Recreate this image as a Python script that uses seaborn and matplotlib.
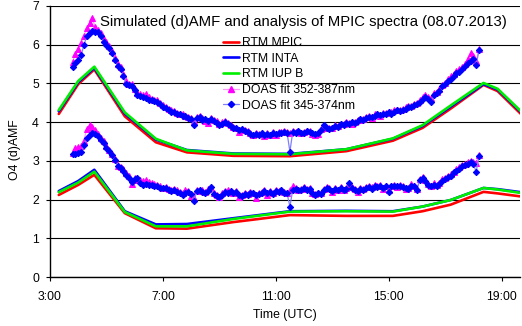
import numpy as np
import pandas as pd
import matplotlib
matplotlib.use("Agg")
import matplotlib.pyplot as plt
import seaborn as sns
from matplotlib.lines import Line2D

# ---------------- data ----------------
rtm_time = [3.31, 4.0, 4.57, 5.65, 6.75, 7.85, 9.5, 11.5, 13.5, 15.15, 16.2, 17.2, 18.36, 18.86, 19.7]
# upper group (dAMF, higher)
mpic_up = [4.21, 4.98, 5.36, 4.15, 3.48, 3.22, 3.13, 3.12, 3.25, 3.52, 3.85, 4.35, 4.96, 4.80, 4.20]
inta_up = [4.28, 5.03, 5.40, 4.22, 3.55, 3.28, 3.19, 3.18, 3.30, 3.57, 3.90, 4.40, 4.98, 4.84, 4.25]
iupb_up = [4.31, 5.06, 5.43, 4.25, 3.57, 3.27, 3.18, 3.17, 3.30, 3.58, 3.92, 4.43, 5.01, 4.86, 4.27]
# lower group
mpic_lo = [2.12, 2.38, 2.64, 1.65, 1.26, 1.25, 1.42, 1.60, 1.58, 1.58, 1.70, 1.87, 2.20, 2.16, 2.08]
inta_lo = [2.22, 2.48, 2.77, 1.70, 1.36, 1.37, 1.52, 1.70, 1.71, 1.70, 1.82, 1.99, 2.30, 2.27, 2.19]
iupb_lo = [2.19, 2.44, 2.72, 1.68, 1.31, 1.31, 1.50, 1.69, 1.70, 1.69, 1.82, 1.99, 2.30, 2.26, 2.17]

doas_time = [
    3.8, 3.9, 4.0, 4.1, 4.2, 4.3, 4.4, 4.5, 4.6, 4.7, 4.8, 4.9, 5.0, 5.1, 5.2, 5.3, 5.4, 5.5, 5.6, 5.7,
    5.8, 5.9, 6.0, 6.1, 6.2, 6.3, 6.4, 6.5, 6.6, 6.7, 6.8, 6.9, 7.0, 7.1, 7.2, 7.3, 7.4, 7.5, 7.6, 7.7,
    7.8, 7.9, 8.0, 8.1, 8.2, 8.3, 8.4, 8.5, 8.6, 8.7, 8.8, 8.9, 9.0, 9.1, 9.2, 9.3, 9.4, 9.5, 9.6, 9.7,
    9.8, 9.9, 10.0, 10.1, 10.2, 10.3, 10.4, 10.5, 10.6, 10.7, 10.8, 10.9, 11.0, 11.1, 11.2, 11.3, 11.4, 11.5, 11.6, 11.7,
    11.8, 11.9, 12.0, 12.1, 12.2, 12.3, 12.4, 12.5, 12.6, 12.7, 12.8, 12.9, 13.0, 13.1, 13.2, 13.3, 13.4, 13.5, 13.6, 13.7,
    13.8, 13.9, 14.0, 14.1, 14.2, 14.3, 14.4, 14.5, 14.6, 14.7, 14.8, 14.9, 15.0, 15.1, 15.2, 15.3, 15.4, 15.5, 15.6, 15.7,
    15.8, 15.9, 16.0, 16.1, 16.2, 16.3, 16.4, 16.5, 16.6, 16.7, 16.8, 16.9, 17.0, 17.1, 17.2, 17.3, 17.4, 17.5, 17.6, 17.7,
    17.8, 17.9, 18.0, 18.1, 18.2]

# DOAS fit 345-374nm (blue diamonds), upper
d345_up = [
    5.43, 5.52, 5.61, 5.72, 5.98, 6.22, 6.31, 6.36, 6.33, 6.32, 6.22, 6.08, 6.00, 5.90, 5.78, 5.60, 5.44, 5.38, 5.18, 4.98,
    4.95, 4.93, 4.82, 4.70, 4.68, 4.65, 4.62, 4.58, 4.57, 4.54, 4.52, 4.46, 4.40, 4.36, 4.30, 4.27, 4.25, 4.22, 4.20, 4.16,
    4.15, 4.11, 4.08, 3.93, 4.10, 4.12, 4.06, 4.08, 4.04, 4.07, 4.03, 3.98, 3.92, 3.96, 4.00, 3.95, 3.90, 3.86, 3.84, 3.80,
    3.82, 3.77, 3.74, 3.70, 3.66, 3.70, 3.67, 3.71, 3.66, 3.69, 3.67, 3.72, 3.70, 3.73, 3.71, 3.75, 3.72, 3.24, 3.74, 3.72,
    3.76, 3.71, 3.73, 3.76, 3.74, 3.71, 3.69, 3.72, 3.80, 3.92, 3.84, 3.82, 3.86, 3.90, 3.88, 3.94, 3.93, 3.98, 3.96, 4.00,
    3.98, 4.04, 4.07, 4.05, 4.10, 4.14, 4.12, 4.17, 4.20, 4.18, 4.22, 4.21, 4.25, 4.22, 4.27, 4.30, 4.28, 4.32, 4.35, 4.38,
    4.40, 4.43, 4.46, 4.52, 4.60, 4.66, 4.60, 4.53, 4.70, 4.74, 4.80, 4.92, 4.98, 5.05, 5.12, 5.20, 5.26, 5.30, 5.36, 5.45,
    5.52, 5.58, 5.62, 5.48, 5.85]
# DOAS fit 352-387nm (magenta triangles), upper
d352_up = [
    5.56, 5.75, 5.88, 6.05, 6.22, 6.43, 6.56, 6.68, 6.45, 6.38, 6.30, 6.14, 6.06, 5.96, 5.84, 5.66, 5.50, 5.42, 5.24, 5.05,
    4.98, 4.98, 4.86, 4.76, 4.72, 4.70, 4.72, 4.65, 4.60, 4.58, 4.56, 4.50, 4.45, 4.38, 4.34, 4.30, 4.28, 4.24, 4.22, 4.20,
    4.17, 4.14, 4.10, 4.02, 4.14, 4.15, 4.10, 4.02, 3.98, 4.10, 4.06, 4.02, 3.95, 4.00, 4.04, 3.97, 3.92, 3.88, 3.86, 3.74,
    3.80, 3.79, 3.76, 3.72, 3.68, 3.72, 3.69, 3.73, 3.65, 3.72, 3.68, 3.74, 3.68, 3.75, 3.74, 3.77, 3.74, 3.72, 3.76, 3.74,
    3.78, 3.73, 3.75, 3.78, 3.76, 3.70, 3.66, 3.70, 3.82, 3.90, 3.86, 3.84, 3.85, 3.92, 3.90, 3.96, 3.95, 4.00, 3.98, 3.95,
    4.00, 4.06, 4.05, 4.08, 4.12, 4.16, 4.10, 4.20, 4.22, 4.15, 4.24, 4.24, 4.27, 4.25, 4.30, 4.32, 4.31, 4.34, 4.38, 4.41,
    4.42, 4.46, 4.50, 4.58, 4.66, 4.70, 4.64, 4.62, 4.74, 4.78, 4.86, 4.95, 5.02, 5.10, 5.18, 5.25, 5.32, 5.36, 5.42, 5.50,
    5.62, 5.78, 5.70, 5.58, 5.88]
# lower group
d345_lo = [
    3.17, 3.18, 3.20, 3.22, 3.40, 3.58, 3.68, 3.71, 3.70, 3.64, 3.55, 3.45, 3.34, 3.25, 3.14, 3.02, 2.87, 2.82, 2.74, 2.64,
    2.55, 2.46, 2.52, 2.55, 2.44, 2.38, 2.40, 2.37, 2.38, 2.34, 2.35, 2.31, 2.29, 2.30, 2.25, 2.22, 2.24, 2.20, 2.17, 2.12,
    2.18, 2.20, 2.14, 1.96, 2.22, 2.25, 2.20, 2.18, 2.22, 2.32, 2.15, 2.10, 2.08, 2.12, 2.20, 2.18, 2.22, 2.16, 2.20, 2.12,
    2.10, 2.14, 2.12, 2.18, 2.16, 2.12, 2.14, 2.18, 2.22, 2.18, 2.20, 2.15, 2.22, 2.20, 2.24, 2.18, 2.16, 1.82, 2.25, 2.28,
    2.24, 2.26, 2.30, 2.25, 2.28, 2.16, 2.12, 2.18, 2.14, 2.25, 2.30, 2.27, 2.22, 2.28, 2.25, 2.30, 2.24, 2.28, 2.42, 2.30,
    2.24, 2.22, 2.27, 2.25, 2.30, 2.33, 2.28, 2.36, 2.32, 2.36, 2.30, 2.34, 2.20, 2.34, 2.36, 2.34, 2.36, 2.32, 2.30, 2.28,
    2.36, 2.34, 2.24, 2.50, 2.55, 2.48, 2.38, 2.34, 2.38, 2.36, 2.40, 2.48, 2.52, 2.58, 2.62, 2.70, 2.74, 2.80, 2.86, 2.90,
    2.92, 2.96, 2.92, 2.72, 3.12]
d352_lo = [
    3.20, 3.32, 3.36, 3.38, 3.52, 3.82, 3.92, 3.88, 3.80, 3.70, 3.60, 3.50, 3.38, 3.28, 3.18, 3.05, 2.86, 2.84, 2.80, 2.68,
    2.60, 2.40, 2.55, 2.50, 2.50, 2.48, 2.50, 2.45, 2.44, 2.40, 2.38, 2.36, 2.30, 2.33, 2.28, 2.26, 2.27, 2.24, 2.20, 2.16,
    2.25, 2.22, 2.10, 2.05, 2.25, 2.22, 2.24, 2.20, 2.28, 2.30, 2.18, 2.12, 2.06, 2.16, 2.22, 2.24, 2.20, 2.18, 2.22, 2.08,
    2.13, 2.16, 2.14, 2.20, 2.18, 2.05, 2.16, 2.20, 2.24, 2.12, 2.22, 2.17, 2.25, 2.22, 2.26, 2.20, 2.18, 2.24, 2.34, 2.30,
    2.26, 2.28, 2.32, 2.28, 2.30, 2.18, 2.14, 2.16, 2.17, 2.28, 2.32, 2.30, 2.20, 2.30, 2.24, 2.33, 2.26, 2.30, 2.40, 2.32,
    2.27, 2.20, 2.30, 2.28, 2.33, 2.35, 2.32, 2.38, 2.34, 2.38, 2.28, 2.36, 2.26, 2.36, 2.38, 2.32, 2.38, 2.34, 2.28, 2.30,
    2.40, 2.36, 2.28, 2.54, 2.58, 2.50, 2.40, 2.36, 2.42, 2.38, 2.44, 2.52, 2.55, 2.60, 2.66, 2.72, 2.78, 2.84, 2.90, 2.93,
    2.96, 3.00, 2.98, 2.95, 3.16]

x_ticks = [3, 7, 11, 15, 19]
x_ticklabels = ["3:00", "7:00", "11:00", "15:00", "19:00"]
y_ticks = [0, 1, 2, 3, 4, 5, 6, 7]

# ---------------- style ----------------
sns.set_theme(style="white")
plt.rcParams["font.family"] = ["Liberation Sans", "DejaVu Sans"]

RED, BLUE, GREEN = "#FF0000", "#0000FF", "#00EE00"
MAG, MAG_LINE = "#FF00FF", "#FF99FF"
DBLUE_LINE = "#8080FF"

fig = plt.figure(figsize=(5.22, 3.26), dpi=100)
ax = fig.add_axes([0.0958, 0.150, 0.9002, 0.832])

rtm = pd.DataFrame({
    "time": rtm_time * 6,
    "amf": mpic_up + inta_up + iupb_up + mpic_lo + inta_lo + iupb_lo,
    "model": (["RTM MPIC"] * 15 + ["RTM INTA"] * 15 + ["RTM IUP B"] * 15) * 2,
    "group": ["up"] * 45 + ["lo"] * 45,
})
rtm_colors = {"RTM MPIC": RED, "RTM INTA": BLUE, "RTM IUP B": GREEN}

for grp in ["up", "lo"]:
    for name in ["RTM MPIC", "RTM INTA", "RTM IUP B"]:
        sub = rtm[(rtm.group == grp) & (rtm.model == name)]
        sns.lineplot(data=sub, x="time", y="amf", ax=ax, color=rtm_colors[name],
                     linewidth=1.9, estimator=None, sort=False, legend=False, zorder=3)

doas = pd.DataFrame({
    "time": doas_time * 4,
    "amf": d352_up + d352_lo + d345_up + d345_lo,
    "fit": ["352"] * (2 * len(doas_time)) + ["345"] * (2 * len(doas_time)),
    "group": (["up"] * len(doas_time) + ["lo"] * len(doas_time)) * 2,
})
TRI_MS, DIA_MS = 4.2, 3.2
for grp in ["up", "lo"]:
    sub = doas[(doas.group == grp) & (doas.fit == "352")]
    sns.lineplot(data=sub, x="time", y="amf", ax=ax, color=MAG_LINE, linewidth=0.9,
                 marker="^", markersize=TRI_MS, markerfacecolor=MAG, markeredgecolor=MAG,
                 estimator=None, sort=False, legend=False, zorder=4)
for grp in ["up", "lo"]:
    sub = doas[(doas.group == grp) & (doas.fit == "345")]
    sns.lineplot(data=sub, x="time", y="amf", ax=ax, color=DBLUE_LINE, linewidth=0.9,
                 marker="D", markersize=DIA_MS, markerfacecolor=BLUE, markeredgecolor=BLUE,
                 estimator=None, sort=False, legend=False, zorder=5)

ax.set_xlim(3, 19.65)
ax.set_ylim(0, 7)
ax.set_xticks(x_ticks)
ax.set_xticklabels(x_ticklabels)
ax.set_yticks(y_ticks)
ax.grid(axis="y", color="black", linewidth=0.8)
ax.grid(axis="x", visible=False)
ax.set_axisbelow(True)
for s in ["top", "right"]:
    ax.spines[s].set_visible(False)
for s in ["left", "bottom"]:
    ax.spines[s].set_color("black")
    ax.spines[s].set_linewidth(1.0)
ax.tick_params(axis="both", which="major", direction="out", length=3, width=0.8,
               color="black", labelsize=8.8, labelcolor="black")
ax.tick_params(axis="x", pad=7)
ax.tick_params(axis="y", pad=5)
ax.tick_params(bottom=True, left=True)

ax.set_xlabel("Time (UTC)", fontsize=8.8, color="black", labelpad=4)
ax.set_ylabel("O4 (d)AMF", fontsize=8.8, color="black")
ax.yaxis.set_label_coords(-0.062, 0.47)

ax.text(0.106, 0.94, "Simulated (d)AMF and analysis of MPIC spectra (08.07.2013)",
        transform=ax.transAxes, fontsize=10.7, color="black", va="center", ha="left", zorder=6)

handles = [
    Line2D([], [], color=RED, linewidth=1.9),
    Line2D([], [], color=BLUE, linewidth=1.9),
    Line2D([], [], color=GREEN, linewidth=1.9),
    Line2D([], [], color=MAG_LINE, linewidth=0.9, marker="^", markersize=TRI_MS,
           markerfacecolor=MAG, markeredgecolor=MAG),
    Line2D([], [], color=DBLUE_LINE, linewidth=0.9, marker="D", markersize=DIA_MS,
           markerfacecolor=BLUE, markeredgecolor=BLUE),
]
labels = ["RTM MPIC", "RTM INTA", "RTM IUP B", "DOAS fit 352-387nm", "DOAS fit 345-374nm"]
leg = ax.legend(handles, labels, loc="upper left", bbox_to_anchor=(0.368, 0.885),
                frameon=False, fontsize=8.8, handlelength=1.3, handletextpad=0.25,
                labelspacing=0.3, borderpad=0, borderaxespad=0)
for t in leg.get_texts():
    t.set_color("black")

fig.savefig("out.png", dpi=100)
